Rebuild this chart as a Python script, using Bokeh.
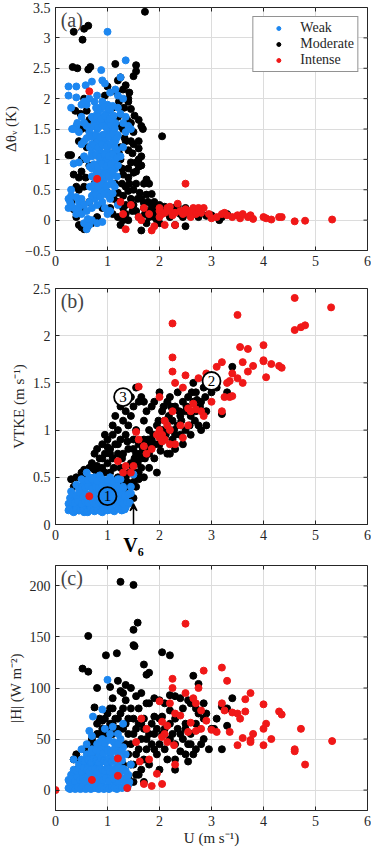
import math
from bokeh.plotting import figure
from bokeh.layouts import column
from bokeh.models import (Range1d, FixedTicker, Legend, LegendItem, Label, Arrow,
                          VeeHead, LinearAxis)
from bokeh.embed import file_html
from bokeh.resources import INLINE

# ---------------- data ----------------
# Panel (a): U vs delta theta_v
a_mod_u = [0.35,0.52,0.55,0.63,1.72,0.33,0.42,0.63,0.67,1.15,1.55,1.25,1.5,1.55,1.35,1.4,1.45,1.52,1.6,1.65,1.68,2.05,1.6,1.6,1.65,1.5,0.25,0.3,0.35,0.4,0.45,0.3,0.35,0.45,0.4,0.45,0.5,0.55,0.62,0.7,1.75,1.8,1.75,1.85,1.9,1.65,1.6,1.5,1.4,1.35,1.3,1.2,1.3,1.35,1.4,1.3,1.25,1.65,1.75,1.5,1.55,1.6,1.7,1.8,1.85,1.9,2.0,2.05,2.1,2.15,2.2,2.25,2.3,2.35,2.4,2.45,2.5,2.55,2.6,2.65,2.7,2.75,2.8,2.9,3.0,3.2,3.15,3.3,2.5,2.3,2.0,1.95,1.2,1.1,1.05,1.15,1.0,0.9,0.8,0.75,0.8,0.9,1.1,1.2,1.3,1.35,1.4,1.45,1.25,1.15,0.95,1.0,0.6,0.5,0.6,0.65,0.55,0.65,1.1,1.2,1.45,1.5,1.55,1.65,1.7,1.85,1.95,0.5,0.45,0.38,0.48,1.25,1.3,1.4,1.48,1.55,1.45,1.5,1.42,1.3,1.2,
           1.15,1.22,1.28,1.33,1.25,1.38,1.32,1.22,1.4,1.18,1.45,1.42,1.28,1.2,1.35,1.48,1.58,1.62,1.72,1.78,1.9,1.4,1.55,1.6,0.58,0.62,0.55,0.65,0.45,0.5,0.52,0.48,1.05,1.12,1.7,1.8]
a_mod_y = [3.1,2.97,3.15,3.2,3.43,2.52,2.5,2.48,2.52,2.57,2.55,2.35,2.37,2.45,2.22,2.0,1.83,1.72,1.65,1.55,1.5,1.38,1.3,1.18,1.05,1.25,1.07,1.07,0.75,0.55,0.5,0.3,0.18,0.15,0.05,-0.08,-0.12,-0.15,-0.1,-0.05,0.67,0.6,0.42,0.43,0.3,0.9,0.88,0.78,0.7,0.55,0.4,0.3,0.2,0.1,0.0,0.0,-0.08,-0.17,-0.05,0.25,0.15,0.05,0.2,0.15,0.1,0.05,0.25,0.18,0.22,0.12,0.05,0.2,0.15,0.23,0.1,0.05,0.2,0.12,0.08,0.15,0.1,0.05,0.12,0.07,0.08,0.05,0.0,0.1,-0.1,-0.08,-0.05,0.0,0.9,1.1,0.8,0.6,0.45,0.2,0.05,0.6,1.3,1.6,1.85,1.7,1.5,1.3,1.15,0.95,1.2,1.4,2.05,2.2,1.8,1.5,1.2,0.9,0.55,0.3,0.1,0.05,0.35,0.5,0.6,0.35,0.28,0.25,0.2,1.0,1.3,1.8,1.75,1.0,0.75,0.85,1.1,0.95,1.6,1.45,2.1,2.15,2.3,
           0.95,1.1,0.85,1.35,1.55,1.65,1.85,1.95,1.95,2.1,1.3,0.6,0.6,0.45,0.25,0.15,0.35,0.45,0.1,0.3,0.15,0.48,0.8,1.0,0.7,1.5,2.0,1.65,0.7,0.8,0.2,0.3,0.2,0.35,0.6,0.05]

a_weak_u = [1.0,1.35,0.88,0.25,0.4,0.58,0.7,0.9,0.95,1.25,0.25,0.4,0.3,0.6,0.55,0.65,0.75,0.8,1.05,1.15,1.2,1.3,0.32,0.4,0.5,0.55,0.6,0.7,0.75,0.8,0.85,0.9,1.0,1.05,1.1,1.15,1.2,1.25,1.3,1.35,1.4,0.5,0.55,0.6,0.65,0.7,0.75,0.8,0.85,0.9,0.95,1.0,1.05,1.1,1.15,1.2,1.3,1.25,0.35,0.45,0.55,0.6,0.7,0.75,0.8,0.85,0.9,0.95,1.0,1.05,1.1,1.15,1.2,0.7,0.75,0.8,0.85,0.9,0.95,1.0,1.05,1.1,0.7,0.75,0.8,0.85,0.9,0.95,1.0,1.05,0.3,0.25,0.35,0.25,0.4,0.45,0.5,0.55,0.6,0.65,0.7,0.75,0.8,0.85,0.9,0.95,1.0,0.55,0.6,0.65,0.7,0.8,0.9,1.05,1.2,0.3,0.95,1.0,0.98,0.92,0.88,0.82,1.05,0.97,1.12,1.02,0.93,0.87,0.78,1.08,1.18,1.35,1.45,
            0.70,0.78,0.86,0.94,1.02,1.10,0.66,0.74,0.82,0.90,0.98,1.06,1.14,0.70,0.78,0.86,0.94,1.02,1.10,1.18,0.66,0.74,0.82,0.90,0.98,1.06,1.14,0.70,0.78,0.86,0.94,1.02,1.10,1.18,0.66,0.74,0.82,0.90,0.98,1.06,1.14,0.70,0.78,0.86,0.94,1.02,1.10,1.18,0.66,0.74,0.82,0.90,0.98,1.06,1.14,0.72,0.80,0.88,0.96,1.04,1.12,0.78,0.86,0.94,1.02,1.10,0.30,0.28,0.40,0.45,0.50,0.62,0.35,0.42,0.45,0.50]
a_weak_y = [3.1,2.63,2.47,2.2,2.2,2.22,2.28,2.3,2.25,2.35,2.05,2.02,1.85,1.9,1.95,2.0,1.95,2.05,2.1,2.15,2.05,2.0,1.5,1.55,1.7,1.6,1.55,1.7,1.6,1.75,1.85,1.95,1.9,1.8,1.7,1.6,1.85,1.75,1.6,1.45,1.55,1.25,1.3,1.35,1.45,1.25,1.4,1.5,1.6,1.7,1.55,1.65,1.45,1.35,1.3,1.4,1.2,1.05,0.93,0.95,1.05,1.0,1.1,1.2,1.3,1.15,1.4,1.3,1.2,1.1,0.95,0.85,0.9,0.85,0.7,0.8,0.95,1.0,0.9,0.8,0.7,0.6,0.55,0.45,0.5,0.6,0.7,0.55,0.45,0.35,0.4,0.35,0.2,0.2,0.1,0.3,0.35,0.25,0.15,0.3,0.2,0.35,0.25,0.4,0.3,0.2,0.1,-0.05,-0.15,-0.08,0.0,-0.05,-0.03,0.15,0.25,0.25,1.1,1.4,1.0,0.8,1.25,1.05,1.55,1.75,1.55,1.25,0.65,0.48,0.6,0.85,1.15,1.7,1.5,
            0.40,0.42,0.38,0.43,0.40,0.44,0.55,0.58,0.55,0.60,0.56,0.59,0.55,0.72,0.75,0.71,0.76,0.73,0.77,0.72,0.88,0.92,0.88,0.93,0.89,0.92,0.99,1.05,1.08,1.04,1.08,1.05,1.09,1.03,1.20,1.24,1.20,1.24,1.21,1.25,1.20,1.37,1.40,1.36,1.41,1.37,1.42,1.36,1.52,1.55,1.52,1.56,1.52,1.57,1.51,1.68,1.70,1.66,1.71,1.67,1.72,1.85,1.82,1.87,1.83,1.88,0.5,0.3,0.38,0.2,0.1,0.02,1.5,1.6,1.45,1.9]

a_int_u = [0.65,0.8,2.5,1.25,1.45,1.3,1.35,1.6,1.65,1.7,1.8,1.85,1.9,2.0,2.05,2.1,2.15,2.2,2.25,2.3,2.35,2.4,2.45,2.5,2.55,2.6,2.65,2.7,2.75,2.8,2.85,2.3,2.1,2.0,3.0,3.1,3.2,3.25,3.3,3.4,3.5,3.55,3.6,3.7,3.75,3.8,4.0,4.05,4.15,4.3,4.35,4.6,4.8,5.32,2.95,2.75,2.6,2.2,2.0]
a_int_y = [2.12,0.68,0.6,0.3,0.25,0.1,-0.15,0.05,0.0,0.2,0.1,-0.17,-0.1,0.15,0.1,0.12,0.2,0.15,0.08,0.12,0.27,0.15,0.1,0.18,0.12,0.15,0.2,0.1,0.15,0.12,0.2,-0.08,-0.08,0.05,0.03,0.05,0.1,0.12,0.08,0.05,0.08,0.03,0.1,0.05,0.08,0.02,0.05,0.03,0.01,0.05,0.05,-0.02,-0.01,0.01,0.1,0.2,0.05,0.22,0.2]

# Panel (b): U vs VTKE
b_mod_u = [0.3,0.35,0.4,0.45,0.5,0.55,0.6,0.65,0.7,0.75,0.75,0.8,0.8,0.85,0.9,0.9,0.95,1.0,1.0,1.05,1.05,1.1,1.1,1.15,1.2,1.2,1.25,1.25,1.3,1.3,1.35,1.35,1.4,1.4,1.45,1.45,1.5,1.5,1.55,1.55,1.6,1.6,1.65,1.65,1.7,1.7,1.75,1.75,1.8,1.8,1.85,1.85,1.9,1.9,1.95,1.95,2.0,2.0,2.05,2.05,2.1,2.1,2.15,2.15,2.2,2.2,2.25,2.25,2.3,2.3,2.35,2.35,2.4,2.4,2.45,2.5,2.5,2.55,2.6,2.65,2.65,2.7,2.7,2.75,2.8,2.8,2.85,2.9,2.9,3.0,3.1,3.2,3.3,3.4,2.95,1.4,1.45,1.5,1.35,1.5,1.55,1.3,1.2,1.1,0.95,0.85,0.65,0.5,0.55,0.6,0.35,1.55,1.45,1.7,1.1,0.95,1.25,1.15,1.35,2.6,2.45,2.2,2.3,1.6,1.7,1.65,1.8,
           1.3,1.38,1.42,1.48,1.52,1.58,1.62,1.68,1.72,1.78,1.82,1.88,1.92,1.98,2.02,2.08,2.12,2.18,2.22,2.28,2.38,2.42,2.52,2.58,2.62,2.68,2.72,2.78,2.88,1.2,1.05,0.9,0.8,1.0,1.12,1.28,1.38,1.5,1.55,1.6]
b_mod_y = [0.48,0.4,0.5,0.15,0.55,0.58,0.5,0.6,0.65,0.75,0.58,0.8,0.62,0.7,0.85,0.6,0.75,0.9,0.65,0.8,0.55,0.95,0.7,0.85,1.0,0.75,0.9,0.6,1.1,0.75,1.2,0.95,1.05,0.8,1.15,0.65,1.25,0.9,0.75,1.0,1.3,0.85,1.35,0.7,1.1,0.9,1.2,0.8,1.0,0.6,1.25,0.9,1.3,0.7,1.05,0.55,1.4,0.85,1.2,1.0,0.9,1.1,1.3,0.75,1.0,1.35,1.1,0.9,1.25,0.95,1.4,1.05,1.15,0.95,1.3,1.2,1.0,1.35,1.15,1.3,1.5,1.2,1.4,1.05,1.3,1.0,1.45,1.2,1.05,1.4,1.45,1.17,1.4,1.67,1.55,0.4,0.3,0.28,0.5,0.45,0.55,0.45,0.5,0.45,0.55,0.5,0.45,0.4,0.3,0.27,0.3,1.45,1.35,1.3,1.05,0.95,1.25,1.15,1.3,0.95,0.85,0.75,0.8,0.55,0.5,0.6,0.75,
           0.35,0.45,0.55,0.62,0.7,0.65,0.75,0.8,0.7,0.9,0.85,0.95,0.85,1.1,0.78,1.25,0.95,1.15,1.25,1.0,1.2,1.1,1.25,1.05,1.4,1.1,1.32,1.25,1.35,0.85,0.75,0.7,0.55,0.82,0.6,0.7,0.88,0.8,0.4,0.48]

b_weak_u = [0.25,0.25,0.28,0.3,0.35,0.35,0.4,0.4,0.45,0.45,0.5,0.5,0.55,0.55,0.6,0.6,0.65,0.65,0.7,0.7,0.75,0.75,0.8,0.8,0.85,0.85,0.9,0.9,0.95,0.95,1.0,1.0,1.05,1.05,1.1,1.1,1.15,1.15,1.2,1.2,1.25,1.25,1.3,1.3,1.35,1.35,1.4,1.45,0.55,0.75,0.6,0.85,0.3,0.4,0.5,0.65,1.45,1.5,0.9,1.0,0.62,0.45,0.72,0.82,0.92,1.02,1.12,1.22,1.32,0.37,0.52,0.68,0.78,0.88,0.98,1.08,1.18,1.28,
            0.27,0.33,0.40,0.47,0.53,0.60,0.67,0.73,0.80,0.87,0.93,1.00,1.07,1.13,1.20,1.27,1.33,
            0.30,0.37,0.43,0.50,0.57,0.63,0.70,0.77,0.83,0.90,0.97,1.03,1.10,1.17,1.23,1.30,1.37,1.43,
            0.33,0.40,0.47,0.53,0.60,0.67,0.73,0.80,0.87,0.93,1.00,1.07,1.13,1.20,1.27,1.33,1.40,
            0.50,0.57,0.63,0.70,0.77,0.83,0.90,0.97,1.03,1.10,1.17,1.23,1.30,
            0.62,0.70,0.80,0.90,1.00,1.10,1.20]
b_weak_y = [0.15,0.22,0.28,0.18,0.25,0.13,0.2,0.3,0.15,0.38,0.25,0.18,0.32,0.13,0.22,0.4,0.17,0.3,0.25,0.45,0.14,0.35,0.2,0.42,0.28,0.15,0.35,0.22,0.45,0.17,0.28,0.4,0.2,0.5,0.33,0.15,0.25,0.42,0.18,0.35,0.28,0.48,0.2,0.38,0.3,0.18,0.22,0.4,0.45,0.5,0.55,0.52,0.35,0.42,0.48,0.5,0.33,0.53,0.13,0.15,0.13,0.27,0.3,0.32,0.27,0.35,0.25,0.27,0.25,0.17,0.37,0.4,0.22,0.43,0.2,0.42,0.45,0.15,
            0.16,0.14,0.17,0.15,0.16,0.14,0.17,0.15,0.16,0.14,0.17,0.15,0.16,0.14,0.17,0.15,0.16,
            0.24,0.23,0.25,0.22,0.24,0.23,0.25,0.22,0.24,0.23,0.25,0.22,0.24,0.23,0.25,0.22,0.24,0.23,
            0.32,0.31,0.33,0.30,0.32,0.31,0.33,0.30,0.32,0.31,0.33,0.30,0.32,0.31,0.33,0.30,0.32,
            0.40,0.39,0.41,0.38,0.40,0.39,0.41,0.38,0.40,0.39,0.41,0.38,0.40,
            0.47,0.48,0.46,0.48,0.47,0.46,0.48]

b_int_u = [0.65,2.25,3.5,4.6,5.3,4.6,4.72,4.8,4.0,3.55,3.7,4.0,4.0,4.15,4.3,4.35,4.05,3.8,3.7,3.6,3.5,3.4,3.35,3.3,3.6,3.2,3.1,3.25,3.35,3.4,3.2,3.0,2.9,2.25,2.25,2.3,2.5,2.75,2.65,2.7,2.8,2.85,2.6,2.55,2.45,1.6,2.0,2.05,2.1,2.0,2.15,2.2,2.05,1.95,2.1,2.3,2.4,2.45,2.55,1.55,1.6,1.7,1.75,1.85,1.3,1.35,1.2,1.5,1.45,2.2,2.0,3.1,2.25]
b_int_y = [0.3,2.13,2.22,2.4,2.3,2.06,2.09,2.11,1.9,1.88,1.86,1.73,1.74,1.7,1.68,1.66,1.56,1.68,1.62,1.72,1.55,1.6,1.52,1.5,1.5,1.72,1.67,1.35,1.35,1.36,1.2,1.3,1.6,1.77,1.62,1.5,1.58,1.55,1.28,1.22,1.2,1.15,1.2,1.23,1.45,1.46,1.0,0.95,0.9,0.92,1.05,1.0,0.88,0.95,1.1,0.85,1.05,0.92,1.05,0.98,0.9,0.83,0.75,0.8,0.55,0.62,0.67,0.62,0.55,0.85,1.35,1.5,1.2]

# Panel (c): U vs |H|
c_mod_u = [1.25,1.5,1.58,1.5,1.5,1.52,0.63,0.97,1.18,2.05,2.2,0.52,0.63,1.7,1.8,1.75,0.8,1.05,1.2,1.35,1.3,1.25,2.65,2.75,3.4,2.3,2.4,2.0,2.1,1.55,1.6,1.8,1.9,1.7,2.2,2.3,2.5,2.6,2.7,2.85,2.9,3.0,3.2,3.3,3.2,2.95,2.85,2.7,2.6,2.5,2.3,2.3,2.2,2.1,2.0,1.95,1.9,1.85,1.75,1.7,1.65,1.6,1.55,1.5,1.45,1.4,1.35,1.3,1.2,1.1,1.05,1.0,0.95,0.9,0.8,0.75,0.85,0.7,0.6,0.5,0.4,0.35,0.45,0.5,0.55,0.65,1.0,1.1,1.4,1.45,1.5,1.6,1.7,1.8,2.0,2.05,2.4,2.55,2.75,3.1,2.45,1.65,1.75,
           0.4,0.45,0.5,0.55,0.6,0.65,0.7,0.75,0.8,0.85,0.9,0.95,1.0,1.05,1.1,1.15,1.2,1.25,1.3,1.35,1.4,1.45,1.5,1.55,1.6,1.65,1.7,1.75,1.8,1.85,1.9,1.95,2.0,2.05,2.1,2.15,2.2,2.25,2.3,2.35,2.4,2.45,2.5,2.55,2.6,2.65,2.7,2.8,2.85,1.4,1.5,1.55,1.3,1.2,1.1,0.9,1.35,1.65,1.9,2.2,2.55,2.75,3.05,3.3,0.6,0.45,0.3,0.35,1.45]
c_mod_y = [204,201,164,157,142,141,151,132,134,135,132,119,116,123,115,113,100,101,107,103,95,97,112,104,90,92,90,88,85,92,80,85,72,70,78,70,65,85,80,85,75,60,82,63,40,40,50,40,45,35,30,20,50,60,45,35,55,45,50,30,20,40,60,70,80,55,45,80,70,65,80,60,55,45,55,81,70,35,25,20,35,30,10,2,28,45,75,90,12,25,8,15,8,25,20,72,55,28,60,70,80,65,85,
           20,30,25,40,15,35,50,45,65,55,60,70,50,65,55,70,60,75,60,65,70,45,55,35,65,50,60,40,55,65,40,60,70,55,40,30,65,55,45,60,38,50,60,45,55,35,65,45,70,35,25,15,25,45,80,68,88,95,90,93,88,75,60,80,5,2,2,15,100]

c_weak_u = [0.25,0.25,0.3,0.3,0.35,0.35,0.4,0.4,0.45,0.45,0.5,0.5,0.55,0.55,0.6,0.6,0.65,0.65,0.7,0.7,0.75,0.75,0.8,0.8,0.85,0.85,0.9,0.9,0.95,0.95,1.0,1.0,1.05,1.05,1.1,1.1,1.15,1.15,1.2,1.2,1.25,1.25,1.3,1.3,1.35,1.35,1.4,1.45,1.0,0.72,0.9,0.65,0.7,0.6,0.5,0.8,0.9,1.0,0.7,0.6,0.5,0.45,0.55,0.85,0.95,1.1,1.2,0.75,0.65,1.05,1.3,1.4,0.35,0.3,0.98,0.88,0.78,1.12,
            0.28,0.33,0.38,0.43,0.48,0.53,0.58,0.63,0.68,0.73,0.78,0.83,0.88,0.93,0.98,1.03,1.08,1.13,1.18,1.23,1.28,1.33,1.38,
            0.27,0.32,0.37,0.42,0.47,0.52,0.57,0.62,0.67,0.72,0.77,0.82,0.87,0.92,0.97,1.02,1.07,1.12,1.17,1.22,1.27,1.32,1.37,1.42,
            0.40,0.45,0.50,0.55,0.60,0.65,0.70,0.75,0.80,0.85,0.90,0.95,1.00,1.05,1.10,1.15,1.20,1.25,1.30,1.35,
            0.55,0.62,0.68,0.73,0.78,0.83,0.88,0.93,0.98,1.03,1.08,1.13,1.18,1.23,1.28,
            0.70,0.78,0.85,0.92,1.00,1.07,1.13,1.20,1.27,
            0.85,0.95,1.02,1.12,1.20]
c_weak_y = [2,10,5,15,8,20,3,12,25,6,15,30,2,22,10,35,5,25,15,40,2,30,10,45,20,35,5,50,15,30,3,40,20,55,10,30,45,5,25,38,12,50,20,65,8,35,15,25,108,72,79,58,53,45,40,25,28,25,8,20,8,16,12,8,60,62,55,18,32,35,42,5,30,2,18,42,38,20,
            1,2,1,3,1,4,1,3,1,4,2,1,3,1,2,1,3,2,1,3,2,4,2,
            8,11,9,13,10,12,9,14,11,13,9,12,14,10,12,9,14,11,13,9,12,10,13,8,
            19,21,18,22,20,18,22,20,18,22,20,19,22,18,21,19,22,18,21,19,
            28,30,27,31,29,27,31,29,27,31,28,30,28,31,29,
            37,39,38,36,39,37,40,36,38,
            47,46,49,47,45]

c_int_u = [0.0,0.7,1.2,1.2,1.38,1.55,1.62,1.7,1.8,1.85,1.95,2.05,1.65,1.75,2.0,2.05,2.1,2.15,2.25,2.25,2.2,2.3,2.28,2.3,2.5,2.5,2.55,2.6,2.65,2.75,2.8,2.85,2.7,2.8,2.9,3.0,3.2,3.3,3.2,3.25,3.1,3.35,3.4,3.5,3.55,3.5,3.6,3.65,3.65,3.75,3.75,3.75,3.8,4.0,4.0,4.0,4.05,4.15,4.3,4.35,4.6,4.6,4.72,4.8,5.32,2.15,2.05,2.4,2.7]
c_int_y = [0,10,31,14,2,47,28,6,30,4,16,6,70,60,87,67,55,63,100,109,85,75,44,25,163,95,57,66,90,100,78,117,85,60,68,59,120,107,85,78,57,57,76,75,70,44,51,77,89,95,49,47,55,84,60,44,65,50,77,74,40,38,60,25,48,47,52,73,58]

x_ticks = [0, 1, 2, 3, 4, 5, 6]
a_ticks = [-0.5, 0, 0.5, 1, 1.5, 2, 2.5, 3, 3.5]
b_ticks = [0, 0.5, 1, 1.5, 2, 2.5]
c_ticks = [0, 50, 100, 150, 200]

class_names = ["Weak", "Moderate", "Intense"]
class_colors = ["#1d87f0", "#000000", "#f01818"]

# annotation anchors in panel (b)
circ_x = [1.0, 3.0, 1.3]
circ_y = [0.3, 1.52, 1.35]
circ_txt = ["1", "2", "3"]
circ_fill_alpha = [0.0, 1.0, 1.0]
v6_x = 1.5
v6_txt = "V\u2086"

SERIF = "Liberation Serif"
INK = "#262626"


def style_axis(ax):
    ax.major_tick_in = 4
    ax.major_tick_out = 0
    ax.minor_tick_line_color = None
    ax.axis_line_color = INK
    ax.major_tick_line_color = INK
    ax.major_label_text_font = SERIF
    ax.major_label_text_font_size = "14px"
    ax.major_label_text_color = INK
    ax.axis_label_text_font = SERIF
    ax.axis_label_text_font_size = "15px"
    ax.axis_label_text_font_style = "normal"
    ax.axis_label_text_color = INK


def make_fig(height, yr, yticks, top, bottom, ylabel, xlabel=None):
    p = figure(width=371, height=height, output_backend="svg", toolbar_location=None,
               x_range=Range1d(0, 6), y_range=yr, min_border_left=49, min_border_right=4,
               min_border_top=top, min_border_bottom=bottom)
    p.xaxis.ticker = FixedTicker(ticks=x_ticks)
    p.yaxis.ticker = FixedTicker(ticks=yticks)
    style_axis(p.xaxis[0])
    style_axis(p.yaxis[0])
    p.xaxis.major_label_standoff = 5
    p.yaxis.major_label_standoff = 5
    p.yaxis.axis_label = ylabel
    p.yaxis.axis_label_standoff = 3
    if xlabel:
        p.xaxis.axis_label = xlabel
        p.xaxis.axis_label_standoff = 1
    p.grid.grid_line_color = "#dcdcdc"
    p.outline_line_color = INK
    p.outline_line_width = 1
    p.background_fill_color = "white"
    # mirrored inward ticks on the top and right frame edges (half of each dash is clipped)
    p.scatter(x_ticks, [yr.end] * len(x_ticks), marker="dash", size=8,
              angle=math.pi / 2, line_color=INK, line_width=1)
    p.scatter([p.x_range.end] * len(yticks), yticks, marker="dash", size=8,
              line_color=INK, line_width=1)
    return p


def scatters(p, data):
    # draw order: moderate, weak, intense
    r = {}
    for key in ["Moderate", "Weak", "Intense"]:
        xs, ys = data[key]
        col = class_colors[class_names.index(key)]
        r[key] = p.scatter(xs, ys, size=7, fill_color=col, line_color=col)
    return r


def panel_label(p, txt, y):
    p.add_layout(Label(x=0.1, y=y, text=txt, text_font=SERIF, text_font_size="20px",
                       text_baseline="top", y_offset=-1))


pa = make_fig(275, Range1d(-0.5, 3.5), a_ticks, 7, 25, "\u0394\u03b8\u1d65 (K)")
ra = scatters(pa, {"Moderate": (a_mod_u, a_mod_y), "Weak": (a_weak_u, a_weak_y),
                   "Intense": (a_int_u, a_int_y)})
leg = Legend(items=[LegendItem(label=n, renderers=[ra[n]]) for n in class_names],
             location="top_right", margin=9, padding=3, spacing=0,
             glyph_width=44, glyph_height=10, label_height=10,
             label_text_font=SERIF, label_text_font_size="14px", label_text_color=INK,
             label_standoff=0, border_line_color=INK, border_line_width=1,
             background_fill_alpha=1)
pa.add_layout(leg)
panel_label(pa, "(a)", 3.5)

pb = make_fig(283, Range1d(0, 2.5), b_ticks, 13, 30, "VTKE (m s\u207b\u00b9)")
scatters(pb, {"Moderate": (b_mod_u, b_mod_y), "Weak": (b_weak_u, b_weak_y),
              "Intense": (b_int_u, b_int_y)})
pb.scatter(circ_x, circ_y, marker="circle", size=18, fill_color="white",
           fill_alpha=circ_fill_alpha, line_color="black", line_width=1.8)
pb.text(x=circ_x, y=circ_y, text=circ_txt, text_font={"value": SERIF},
        text_font_size="15px", text_align="center", text_baseline="middle",
        text_color="black")
pb.add_layout(Arrow(end=VeeHead(size=7, line_color="black", fill_color="black", line_width=1.5),
                    x_start=v6_x, y_start=-0.02, x_end=v6_x, y_end=0.22,
                    line_width=1.5, line_color="black"))
v6_axis = LinearAxis(ticker=FixedTicker(ticks=[v6_x]),
                     major_label_overrides={v6_x: v6_txt},
                     axis_line_color=None, major_tick_line_color=None,
                     minor_tick_line_color=None,
                     major_label_text_font=SERIF, major_label_text_font_size="20px",
                     major_label_text_font_style="bold", major_label_text_color="black",
                     major_label_standoff=-15)
pb.add_layout(v6_axis, "below")
panel_label(pb, "(b)", 2.5)

pc = make_fig(292, Range1d(-20, 220), c_ticks, 7, 40, "|H| (W m\u207b\u00b2)",
              xlabel="U (m s\u207b\u00b9)")
scatters(pc, {"Moderate": (c_mod_u, c_mod_y), "Weak": (c_weak_u, c_weak_y),
              "Intense": (c_int_u, c_int_y)})
panel_label(pc, "(c)", 220)

layout = column(pa, pb, pc, spacing=0)
open("out.html", "w").write(file_html(layout, INLINE))
